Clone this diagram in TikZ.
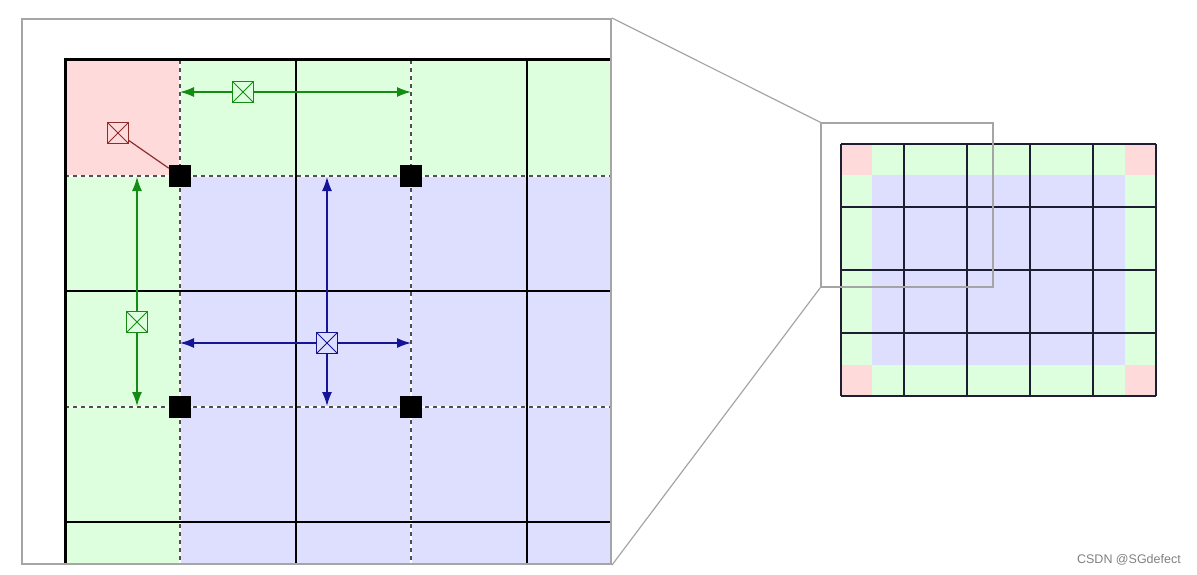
\documentclass[tikz,border=0pt]{standalone}
\usepackage{fontspec}
\newfontfamily\wmfont{Liberation Sans}
\usetikzlibrary{arrows.meta}
\definecolor{pinkc}{RGB}{255,218,218}
\definecolor{greenc}{RGB}{221,255,221}
\definecolor{bluec}{RGB}{222,222,255}
\definecolor{garrow}{RGB}{20,140,20}
\definecolor{barrow}{RGB}{20,20,150}
\definecolor{rbox}{RGB}{140,45,45}
\definecolor{framec}{RGB}{165,165,165}
\definecolor{dashc}{RGB}{80,80,80}
\definecolor{gridc}{RGB}{30,30,50}
\tikzset{
  xbox/.style={draw=#1, rectangle, minimum size=21pt, inner sep=0pt, line width=0.9pt,
    path picture={\draw[#1, line width=0.8pt]
      (path picture bounding box.north west)--(path picture bounding box.south east)
      (path picture bounding box.north east)--(path picture bounding box.south west);}},
  sq/.style={fill=black, rectangle, minimum size=22pt, inner sep=0pt},
  arr/.style={line width=1.3pt, -{Latex[length=14pt,width=10pt]}},
  dashline/.style={dashc, line width=1.6pt, dash pattern=on 4pt off 4pt},
  whiteline/.style={white, line width=1.6pt},
  solidline/.style={black, line width=2.2pt},
  smallgrid/.style={gridc, line width=1.6pt},
  framebox/.style={draw=framec, rectangle, inner sep=0pt, fill=none}
}
\begin{document}
\begin{tikzpicture}[x=1pt,y=-1pt]
\useasboundingbox (0,0) rectangle (1197,575);
% ---------- big zoomed panel ----------
\begin{scope}
\clip (22,19) rectangle (611,564);
\fill[pinkc] (65,60) rectangle (180,176);
\fill[greenc] (180,60) rectangle (611,176);
\fill[greenc] (65,176) rectangle (180,564);
\fill[bluec] (180,176) rectangle (611,564);
\foreach \x in {180,411} {
  \draw[whiteline] (\x,60) -- (\x,564);
  \draw[dashline] (\x,60) -- (\x,564);
}
\foreach \y in {176,407} {
  \draw[whiteline] (65,\y) -- (611,\y);
  \draw[dashline] (65,\y) -- (611,\y);
}
\foreach \x in {296,527} \draw[solidline] (\x,60) -- (\x,564);
\foreach \y in {291,522} \draw[solidline] (65,\y) -- (611,\y);
\draw[black, line width=3pt] (611,60) -- (65,60) -- (65,564);
\end{scope}
\node[framebox, line width=2pt, minimum width=589pt, minimum height=545pt] (frame) at (316.5,291.5) {};

% markers and arrows
\node[sq] (s1) at (180,176) {};
\node[sq] (s2) at (411,176) {};
\node[sq] (s3) at (180,407) {};
\node[sq] (s4) at (411,407) {};

\node[xbox=garrow] (g1) at (243,92) {};
\coordinate (g1l) at (180,92);
\coordinate (g1r) at (411,92);
\draw[garrow, arr] (g1) -- (g1l);
\draw[garrow, arr] (g1) -- (g1r);

\node[xbox=rbox] (r1) at (118,133) {};
\draw[rbox, line width=1.2pt] (r1) -- (s1);

\node[xbox=garrow] (g2) at (137,322) {};
\coordinate (g2u) at (137,177);
\coordinate (g2d) at (137,406);
\draw[garrow, arr] (g2) -- (g2u);
\draw[garrow, arr] (g2) -- (g2d);

\node[xbox=barrow] (b1) at (327,343) {};
\coordinate (b1u) at (327,177);
\coordinate (b1d) at (327,406);
\coordinate (b1l) at (180,343);
\coordinate (b1r) at (411,343);
\draw[barrow, arr] (b1) -- (b1u);
\draw[barrow, arr] (b1) -- (b1d);
\draw[barrow, arr] (b1) -- (b1l);
\draw[barrow, arr] (b1) -- (b1r);

% ---------- small full image ----------
\fill[greenc] (841,144) rectangle (1156,396);
\fill[bluec] (872,175) rectangle (1125,365);
\fill[pinkc] (841,144) rectangle (872,175);
\fill[pinkc] (1125,144) rectangle (1156,175);
\fill[pinkc] (841,365) rectangle (872,396);
\fill[pinkc] (1125,365) rectangle (1156,396);
\foreach \x in {841,904,967,1030,1093,1156} \draw[smallgrid] (\x,144) -- (\x,396);
\foreach \y in {144,207,270,333,396} \draw[smallgrid] (841,\y) -- (1156,\y);

\node[framebox, line width=1.5pt, minimum width=172pt, minimum height=164pt] (zr) at (907,205) {};
\draw[framec, line width=1.2pt] (frame.north east) -- (zr.north west);
\draw[framec, line width=1.2pt] (frame.south east) -- (zr.south west);

\node[anchor=east, text=gray, inner sep=0pt, font=\wmfont\fontsize{12.5}{14}\selectfont] (wm) at (1181,560) {CSDN @SGdefect};
\end{tikzpicture}
\end{document}
